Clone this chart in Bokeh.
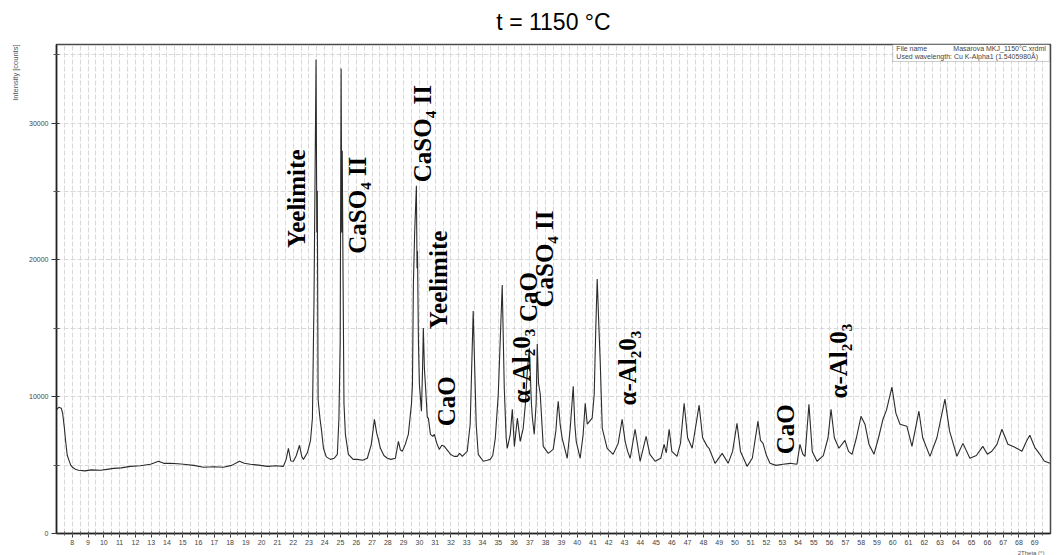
import numpy as np
from bokeh.plotting import figure
from bokeh.models import Label, FixedTicker, BoxAnnotation, Range1d, ColumnDataSource, Title
from bokeh.core.properties import value
from bokeh.embed import file_html
from bokeh.resources import INLINE

# XRD pattern, sample fired at 1150 °C (2Theta in degrees, intensity in counts)
two_theta = [
    7.03, 7.15, 7.30, 7.39, 7.50, 7.58, 7.68, 7.77, 7.90, 8.02, 8.20, 8.40, 8.80, 9.20,
    9.79, 10.20, 10.62, 11.10, 11.69, 12.30, 12.96, 13.47, 13.80, 14.23, 14.70, 15.05,
    15.70, 16.32, 17.00, 17.58, 18.10, 18.60, 18.90, 19.29, 19.80, 20.37, 20.90, 21.38,
    21.55, 21.70, 21.85, 22.02, 22.20, 22.40, 22.55, 22.65, 22.90, 23.10, 23.22, 23.32,
    23.45, 23.50, 23.53, 23.58, 23.70, 23.80, 23.92, 24.10, 24.36, 24.60, 24.80, 24.90,
    24.98, 25.04, 25.08, 25.11, 25.16, 25.22, 25.31, 25.50, 25.80, 26.07, 26.40, 26.70,
    26.95, 27.15, 27.30, 27.40, 27.53, 27.75, 27.97, 28.20, 28.48, 28.67, 28.80, 28.92,
    29.10, 29.30, 29.50, 29.56, 29.62, 29.70, 29.81, 29.85, 29.88, 29.94, 30.00, 30.13,
    30.20, 30.25, 30.32, 30.38, 30.50, 30.57, 30.70, 30.85, 30.95, 31.10, 31.26, 31.42,
    31.58, 31.83, 31.96, 32.20, 32.40, 32.55, 32.72, 32.90, 33.03, 33.22, 33.41, 33.60,
    33.73, 34.05, 34.30, 34.49, 34.65, 34.81, 35.00, 35.12, 35.25, 35.38, 35.50, 35.57,
    35.76, 35.89, 36.02, 36.21, 36.39, 36.58, 36.72, 36.84, 36.97, 37.10, 37.16, 37.28,
    37.40, 37.47, 37.55, 37.66, 37.85, 38.17, 38.48, 38.65, 38.74, 38.80, 38.92, 39.05,
    39.37, 39.56, 39.75, 39.85, 39.94, 40.19, 40.38, 40.51, 40.64, 40.95, 41.08, 41.18,
    41.27, 41.38, 41.46, 41.59, 41.90, 42.28, 42.60, 42.85, 43.04, 43.20, 43.36, 43.67,
    43.99, 44.37, 44.60, 44.94, 45.30, 45.51, 45.65, 45.83, 46.00, 46.33, 46.55, 46.78,
    47.00, 47.29, 47.73, 47.95, 48.24, 48.36, 48.74, 49.19, 49.57, 49.85, 50.13, 50.35,
    50.77, 51.10, 51.46, 51.62, 51.78, 52.00, 52.22, 52.60, 53.05, 53.50, 53.93, 54.12,
    54.30, 54.44, 54.69, 54.90, 55.20, 55.60, 55.90, 56.09, 56.30, 56.59, 56.97, 57.20,
    57.42, 57.70, 57.99, 58.24, 58.50, 58.81, 59.10, 59.38, 59.60, 59.95, 60.20, 60.46,
    60.90, 61.22, 61.66, 61.90, 62.36, 62.80, 63.31, 63.60, 64.07, 64.45, 64.89, 65.30,
    65.71, 66.00, 66.28, 66.60, 66.92, 67.30, 67.74, 68.19, 68.50, 68.69, 69.00, 69.33,
    69.60, 69.96,
]
intensity = [
    9080, 9230, 9160, 8790, 7700, 6740, 5720, 5420, 5000, 4840, 4690, 4620, 4580, 4650,
    4620, 4690, 4760, 4800, 4910, 4950, 5060, 5280, 5130, 5130, 5100, 5060,
    4980, 4840, 4880, 4840, 4980, 5280, 5130, 5060, 5000, 4910, 4950, 4910,
    5400, 6230, 5300, 5280, 5700, 6450, 5600, 5420, 5900, 6800, 8430, 17000,
    34650, 22000, 25050, 9800, 8400, 7500, 6230, 5600, 5420, 5500, 5790, 8400,
    14000, 33990, 22000, 27990, 19000, 9500, 7250, 5790, 5420, 5420, 5350, 5500,
    6500, 8350, 7300, 6890, 6230, 5700, 5500, 5420, 5500, 6740, 6100, 6010,
    6500, 7250, 9500, 10920, 18240, 22000, 25420, 19400, 20660, 14000, 10920, 8940,
    12000, 15020, 12000, 10920, 8500, 8430, 7250, 7100, 7250, 6600, 6150, 6450,
    6370, 6010, 5800, 5640, 5640, 5860, 5640, 5860, 6000, 7990, 16260, 7990,
    5790, 5280, 5350, 5420, 5700, 6960, 10180, 14000, 18170, 10620, 7000, 6230,
    7250, 9080, 6370, 8430, 6740, 7690, 9500, 11870, 13550, 9500, 8500, 7250,
    9500, 13850, 11000, 10180, 6370, 5860, 6150, 7500, 8940, 9670, 8000, 6960,
    5500, 7690, 10770, 8000, 6740, 5500, 7250, 9520, 7990, 8430, 10180, 15000,
    18610, 15000, 12600, 7690, 6230, 5790, 6590, 8350, 6740, 6000, 5500, 7620,
    5280, 7100, 5800, 5280, 5500, 6520, 5900, 7620, 6000, 5640, 6600, 9520,
    7000, 6230, 9380, 7000, 6370, 6230, 5130, 5860, 5130, 6000, 8060, 6000,
    4910, 5500, 8210, 6800, 6590, 5700, 5130, 4980, 5060, 5130, 5060, 6520,
    5800, 5640, 9450, 6000, 5280, 5700, 7000, 9080, 7000, 6230, 6810, 6000,
    5790, 7000, 8570, 7990, 6500, 5790, 7000, 8350, 9000, 10700, 8800, 7990,
    7840, 6370, 8940, 7000, 5640, 7000, 9820, 7500, 5640, 6590, 5500, 5700,
    6370, 5800, 6010, 6500, 7620, 6520, 6300, 6010, 6800, 7180, 6300, 5790,
    5300, 5130,
]

# phase identifications written beside the reflections
phase_names = ["Yeelimite", "CaSO\u2084 II", "CaSO\u2084 II", "Yeelimite", "CaO",
               "\u03b1-Al\u20820\u2083", "CaO", "CaSO\u2084 II", "\u03b1-Al\u20820\u2083",
               "CaO", "\u03b1-Al\u20820\u2083"]
# anchor (centre) of each vertical phase label, in axis units
phase_x = [22.21, 26.07, 30.19, 31.21, 31.71, 36.47, 36.91, 37.93, 43.19, 53.20, 56.56]
phase_y = [24470, 24000, 29230, 18535, 9670, 12230, 17290, 20070, 12090, 7620, 12600]

x_ticks = list(range(8, 70))
y_ticks = [0, 10000, 20000, 30000]

p = figure(width=1059, height=555, output_backend="svg", toolbar_location=None,
           x_range=Range1d(7, 70), y_range=Range1d(0, 35750),
           min_border_left=56, min_border_right=9, min_border_top=44, min_border_bottom=22)
p.background_fill_color = "white"
p.border_fill_color = "white"
p.outline_line_color = "#4a4a4a"
p.outline_line_width = 1.5

# main title
p.title.text = "t = 1150 \u00b0C"
p.title.align = "center"
p.title.vertical_align = "top"
p.title.text_font = "Liberation Sans"
p.title.text_font_style = "normal"
p.title.text_font_size = "23px"
p.title.text_color = "black"
p.title.standoff = 16

# axis captions, pushed to the ends of their axes
p.add_layout(Title(text="Intensity [counts]", align="right", standoff=14,
                   text_font="Liberation Sans", text_font_style="normal",
                   text_font_size="7.5px", text_color="#555555"), "left")
p.add_layout(Title(text="2Theta (\u00b0)", align="right", standoff=0, offset=6,
                   text_font="Liberation Sans", text_font_style="normal",
                   text_font_size="6px", text_color="#555555"), "below")

# axes
p.xaxis.ticker = FixedTicker(ticks=x_ticks, minor_ticks=list(np.arange(7.5, 70, 0.5)))
p.yaxis.ticker = FixedTicker(ticks=y_ticks, minor_ticks=[5000, 15000, 25000, 35000])
for ax in (p.xaxis[0], p.yaxis[0]):
    ax.axis_line_color = "#222222"
    ax.axis_line_width = 1.5
    ax.major_tick_line_color = "#333333"
    ax.minor_tick_line_color = "#555555"
    ax.major_label_text_font = "Liberation Sans"
    ax.major_label_text_font_size = "7px"
    ax.major_label_text_color = "#444444"
p.xaxis.major_tick_out = 4
p.xaxis.major_tick_in = 1
p.xaxis.minor_tick_out = 2
p.xaxis.minor_tick_in = 2
p.xaxis.major_label_standoff = 2
p.yaxis.major_tick_out = 5
p.yaxis.major_tick_in = 3
p.yaxis.minor_tick_out = 3
p.yaxis.minor_tick_in = 3
p.yaxis.major_label_standoff = 3

# dashed grid
p.xgrid.ticker = FixedTicker(ticks=list(np.arange(7.5, 70, 0.5)))
p.ygrid.ticker = FixedTicker(ticks=[5000, 10000, 15000, 20000, 25000, 30000, 35000])
for g in (p.xgrid[0], p.ygrid[0]):
    g.grid_line_color = "#d9d9d9"
    g.grid_line_dash = "5 2"
    g.grid_line_width = 1

# diffraction pattern
p.line(two_theta, intensity, line_color="#2b2b2b", line_width=1.1)

# phase labels
src = ColumnDataSource(dict(x=phase_x, y=phase_y, t=phase_names))
p.text(x="x", y="y", text="t", source=src, angle=np.pi / 2,
       text_align="center", text_baseline="middle",
       text_font=value("Liberation Serif"), text_font_style="bold",
       text_font_size="25px", text_color="black")

# measurement info box
p.add_layout(BoxAnnotation(left=60.0, right=69.93, bottom=34510, top=35750,
                           fill_color="white", fill_alpha=1.0,
                           line_color="#555555", line_width=1, level="annotation"))
info_style = dict(text_font="Liberation Sans", text_font_size="7px", text_color="#444444",
                  text_baseline="middle", text_align="left")
p.add_layout(Label(x=60.23, y=35440, text="File name", **info_style))
p.add_layout(Label(x=63.84, y=35440, text="Masarova MKJ_1150\u00b0C.xrdml", **info_style))
p.add_layout(Label(x=60.23, y=34860,
                   text="Used wavelength: Cu K-Alpha1 (1.5405980\u00c5)", **info_style))

open("out.html", "w").write(file_html(p, INLINE))
